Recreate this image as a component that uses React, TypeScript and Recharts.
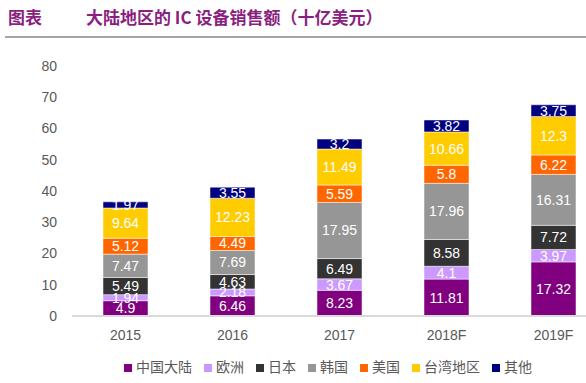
import React from "react";
import { BarChart, Bar, XAxis, YAxis, Legend, LabelList } from "recharts";

const categories = ["2015", "2016", "2017", "2018F", "2019F"];
const mainland = [4.9, 6.46, 8.23, 11.81, 17.32];
const europe = [1.94, 2.18, 3.67, 4.1, 3.97];
const japan = [5.49, 4.63, 6.49, 8.58, 7.72];
const korea = [7.47, 7.69, 17.95, 17.96, 16.31];
const usa = [5.12, 4.49, 5.59, 5.8, 6.22];
const taiwan = [9.64, 12.23, 11.49, 10.66, 12.3];
const others = [1.97, 3.55, 3.2, 3.82, 3.75];
const yTicks = [0, 10, 20, 30, 40, 50, 60, 70, 80];

const series = [
  { key: "mainland", name: "中国大陆", values: mainland, color: "#800080" },
  { key: "europe", name: "欧洲", values: europe, color: "#CC99FF" },
  { key: "japan", name: "日本", values: japan, color: "#333333" },
  { key: "korea", name: "韩国", values: korea, color: "#969696" },
  { key: "usa", name: "美国", values: usa, color: "#FF6600" },
  { key: "taiwan", name: "台湾地区", values: taiwan, color: "#FFCC00" },
  { key: "others", name: "其他", values: others, color: "#000080" },
];
const seriesOrder = series.map((s) => s.name);

const data = categories.map((c, i) => {
  const row: any = { name: c };
  series.forEach((s) => (row[s.key] = s.values[i]));
  return row;
});

const font = "Arial, 'Liberation Sans', 'Noto Sans CJK SC', sans-serif";

export default function App() {
  return (
    <div
      style={{
        position: "absolute",
        left: 0,
        top: 0,
        width: 586,
        height: 383,
        overflow: "hidden",
        background: "#fff",
        fontFamily: font,
      }}
    >
      <div
        style={{
          position: "absolute",
          left: 8,
          top: 6,
          fontSize: 17,
          fontWeight: "bold",
          color: "#8B1F80",
          fontFamily: "'Noto Sans CJK SC', sans-serif",
          whiteSpace: "nowrap",
          lineHeight: "22px",
        }}
      >
        <span>图表</span>
        <span style={{ marginLeft: 44 }}>大陆地区的 IC 设备销售额（十亿美元）</span>
      </div>
      <div
        style={{
          position: "absolute",
          left: 5,
          top: 36,
          width: 581,
          height: 2,
          background: "#A6A6A6",
        }}
      />
      <div style={{ position: "absolute", left: 0, top: 0 }}>
        <BarChart
          width={620}
          height={383}
          data={data}
          margin={{ top: 66, right: 13, bottom: 7, left: 0 }}
          barSize={45}
        >
          <XAxis
            dataKey="name"
            axisLine={{ stroke: "#D9D9D9", strokeWidth: 2 }}
            tickLine={false}
            tick={{ fill: "#595959", fontSize: 14, fontFamily: font }}
            height={40}
            tickMargin={8}
          />
          <YAxis
            domain={[0, 80]}
            ticks={yTicks}
            axisLine={false}
            tickLine={false}
            tickSize={0}
            tickMargin={15}
            width={72}
            tick={{ fill: "#595959", fontSize: 14, fontFamily: font }}
          />
          <Legend
            iconType="square"
            iconSize={8}
            itemSorter={(item: any) => seriesOrder.indexOf(item.value)}
            wrapperStyle={{ fontSize: 14, fontFamily: font, left: 0, width: 668 }}
            formatter={(value: string) => (
              <span style={{ color: "#595959", marginRight: 2 }}>{value}</span>
            )}
          />
          {series.map((s) => (
            <Bar
              key={s.key}
              dataKey={s.key}
              name={s.name}
              stackId="a"
              fill={s.color}
              stroke="#ffffff"
              strokeWidth={0.5}
              isAnimationActive={false}
            >
              <LabelList
                dataKey={s.key}
                position="center"
                fill="#ffffff"
                fontSize={14}
                fontFamily={font}
              />
            </Bar>
          ))}
        </BarChart>
      </div>
    </div>
  );
}
